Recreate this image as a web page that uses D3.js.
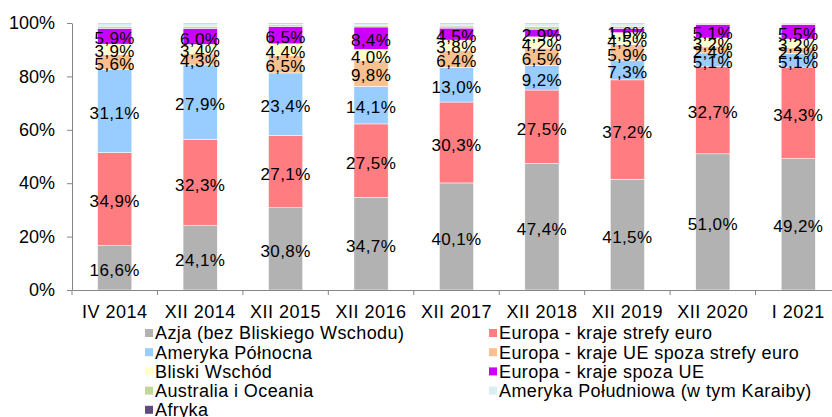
<!DOCTYPE html>
<html>
<head>
<meta charset="utf-8">
<script src="https://cdn.jsdelivr.net/npm/d3@7"></script>
<style>
  body { margin: 0; background: #fff; }
  svg text { font-family: "Liberation Sans", Arial, sans-serif; fill: #000; }
</style>
</head>
<body>
<div id="chart"></div>
<script>
// Data
const categories = ["IV 2014", "XII 2014", "XII 2015", "XII 2016", "XII 2017", "XII 2018", "XII 2019", "XII 2020", "I 2021"];
const seriesNames = [
  "Azja (bez Bliskiego Wschodu)",
  "Europa - kraje strefy euro",
  "Ameryka Północna",
  "Europa - kraje UE spoza strefy euro",
  "Bliski Wschód",
  "Europa - kraje spoza UE",
  "Australia i Oceania",
  "Ameryka Południowa (w tym Karaiby)",
  "Afryka"
];
const azja       = [16.6, 24.1, 30.8, 34.7, 40.1, 47.4, 41.5, 51.0, 49.2];
const euroZone   = [34.9, 32.3, 27.1, 27.5, 30.3, 27.5, 37.2, 32.7, 34.3];
const amerykaPln = [31.1, 27.9, 23.4, 14.1, 13.0, 9.2, 7.3, 5.1, 5.1];
const ueNonEuro  = [5.6, 4.3, 6.5, 9.8, 6.4, 6.5, 5.9, 2.4, 2.2];
const bliski     = [3.9, 3.4, 4.4, 4.0, 3.8, 4.2, 4.5, 3.2, 3.2];
const nonUe      = [5.9, 6.0, 6.5, 8.4, 4.5, 2.9, 1.6, 5.1, 5.5];
const australia  = [0.8, 0.8, 0.6, 0.6, 0.8, 1.0, 0.8, 0.2, 0.2];
const amerykaPld = [0.9, 0.9, 0.5, 0.6, 0.8, 1.0, 0.9, 0.2, 0.2];
const afryka     = [0.3, 0.3, 0.2, 0.3, 0.3, 0.3, 0.3, 0.1, 0.1];
const labelled   = [true, true, true, true, true, true, false, false, false];
const colors = ["#b2b2b2", "#ff7c80", "#99ccff", "#fac090", "#ffffcc", "#cc00ff", "#c3d69b", "#dbeef4", "#604a7b"];
const yTicks = [0, 0.2, 0.4, 0.6, 0.8, 1.0];

const allSeries = [azja, euroZone, amerykaPln, ueNonEuro, bliski, nonUe, australia, amerykaPld, afryka];

// Layout
const width = 832, height = 417;
const plotLeft = 72, plotRight = 841, plotTop = 23, plotBottom = 290;

const svg = d3.select("#chart").append("svg")
  .attr("width", width).attr("height", height);

const x = d3.scaleBand().domain(categories).range([plotLeft, plotRight]).padding(0);
const y = d3.scaleLinear().domain([0, 1]).range([plotBottom, plotTop]);
const barW = x.bandwidth() * 0.40;

// Stack
const rows = categories.map((c, i) => {
  const r = { cat: c };
  seriesNames.forEach((s, k) => r[s] = allSeries[k][i] / 100);
  return r;
});
const stacked = d3.stack().keys(seriesNames)(rows);

const bars = svg.append("g");
stacked.forEach((layer, k) => {
  bars.selectAll(null)
    .data(layer)
    .join("rect")
    .attr("x", d => x(d.data.cat) + x.bandwidth() / 2 - barW / 2)
    .attr("y", d => y(d[1]))
    .attr("width", barW)
    .attr("height", d => y(d[0]) - y(d[1]))
    .attr("fill", colors[k])
    .attr("stroke", "#fff")
    .attr("stroke-width", 0.5);
});

// Data labels
const labels = svg.append("g");
stacked.forEach((layer, k) => {
  if (!labelled[k]) return;
  labels.selectAll(null)
    .data(layer)
    .join("text")
    .attr("x", d => x(d.data.cat) + x.bandwidth() / 2)
    .attr("y", d => y((d[0] + d[1]) / 2))
    .attr("dy", "0.48em")
    .attr("text-anchor", "middle")
    .style("font-size", "17px")
    .style("letter-spacing", "0.4px")
    .text(d => d3.format(".1f")((d[1] - d[0]) * 100).replace(".", ",") + "%");
});

// Y axis
const yAxis = svg.append("g")
  .attr("transform", `translate(${plotLeft},0)`)
  .call(d3.axisLeft(y).tickValues(yTicks).tickFormat(d3.format(".0%")).tickSize(5).tickSizeOuter(0));
yAxis.select(".domain").attr("stroke", "#868686");
yAxis.selectAll(".tick line").attr("stroke", "#868686");
yAxis.selectAll(".tick text").style("font-size", "18px").attr("x", -17);

// X axis
const xAxis = svg.append("g")
  .attr("transform", `translate(0,${plotBottom})`)
  .call(d3.axisBottom(x).tickSize(0).tickSizeOuter(0));
xAxis.select(".domain").attr("stroke", "#868686");
xAxis.selectAll(".tick text").style("font-size", "18px").style("letter-spacing", "0.5px").attr("y", 15);
xAxis.selectAll(null)
  .data(categories)
  .join("line")
  .attr("x1", d => x(d)).attr("x2", d => x(d))
  .attr("y1", 0).attr("y2", 5)
  .attr("stroke", "#868686");

// Legend
const legend = svg.append("g");
const legendCols = [145, 489];
seriesNames.forEach((s, k) => {
  const col = k % 2, row = Math.floor(k / 2);
  const g = legend.append("g")
    .attr("transform", `translate(${legendCols[col]},${333 + row * 19.2})`);
  g.append("rect")
    .attr("x", 0).attr("y", -4).attr("width", 8).attr("height", 8)
    .attr("fill", colors[k]);
  g.append("text")
    .attr("x", 10).attr("dy", "0.35em")
    .style("font-size", "18px")
    .style("letter-spacing", "0.4px")
    .text(s);
});
</script>
</body>
</html>
